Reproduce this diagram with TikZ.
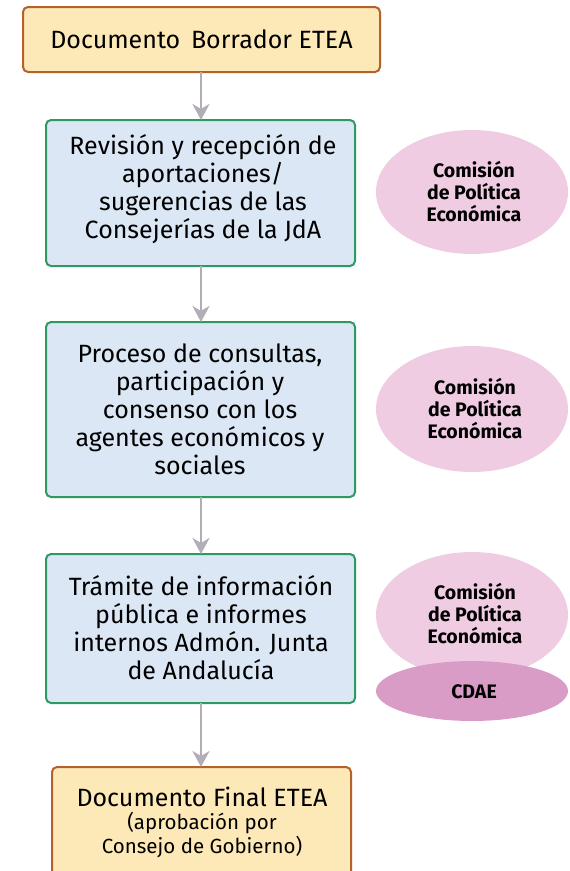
\documentclass[tikz,border=0pt]{standalone}
\usepackage{fontspec}
\setmainfont{Fira Sans}
\usetikzlibrary{arrows.meta}
\definecolor{docfill}{HTML}{FDE9B8}
\definecolor{docdraw}{HTML}{B5612A}
\definecolor{stfill}{HTML}{DCE7F5}
\definecolor{stdraw}{HTML}{2E9A62}
\definecolor{arrgray}{HTML}{B3ADB7}
\definecolor{elfill}{HTML}{F0CCE3}
\definecolor{cdfill}{HTML}{D89CC7}
\tikzset{
  docbox/.style={draw=docdraw,fill=docfill,line width=2pt,rounded corners=5pt},
  stbox/.style={draw=stdraw,fill=stfill,line width=2pt,rounded corners=5pt},
  maintext/.style={align=center,font=\fontsize{25}{28}\selectfont},
  eltext/.style={align=center,font=\fontsize{19.5}{22}\selectfont\bfseries},
  flow/.style={draw=arrgray,line width=2.8pt,-{Stealth[length=16pt,width=17pt,inset=5pt]}},
  elli/.style={fill=elfill,draw=none},
}
\begin{document}
\begin{tikzpicture}[x=1pt,y=-1pt]
\useasboundingbox (0,0) rectangle (570,871);
% boxes
\draw[docbox] (23,7) rectangle (380,72);
\node[maintext] (top) at (201.5,39.5) {Documento\, Borrador ETEA};
\draw[stbox] (46,120) rectangle (355,266);
\node[maintext] (s1) at (203,189) {Revisión y recepción de\\ aportaciones/\\ sugerencias de las\\ Consejerías de la JdA};
\draw[stbox] (46,322) rectangle (355,497);
\node[maintext] (s2) at (200,409) {Proceso de consultas,\\ participación y\\ consenso con los\\ agentes económicos y\\ sociales};
\draw[stbox] (46,554) rectangle (355,703);
\node[maintext] (s3) at (201,628) {Trámite de información\\ pública e informes\\ internos Admón. Junta\\ de Andalucía};
\draw[docbox] (52,767) rectangle (351,880);
\node[align=center,font=\fontsize{20.5}{23.5}\selectfont] (fin) at (202,822) {{\fontsize{25}{28}\selectfont Documento Final ETEA}\\ (aprobación por\\ Consejo de Gobierno)};
% coordinates for connectors
\coordinate (a0) at (201,72);
\coordinate (a1) at (201,120);
\coordinate (b0) at (201,266);
\coordinate (b1) at (201,322);
\coordinate (c0) at (201,497);
\coordinate (c1) at (201,554);
\coordinate (d0) at (201,703);
\coordinate (d1) at (201,767);
\draw[flow] (a0) -- (a1);
\draw[flow] (b0) -- (b1);
\draw[flow] (c0) -- (c1);
\draw[flow] (d0) -- (d1);
% ellipses
\fill[elli] (472,192) ellipse [x radius=96, y radius=62];
\node[eltext] (e1) at (474,192) {Comisión\\ de Política\\ Económica};
\fill[elli] (472,409) ellipse [x radius=96, y radius=63];
\node[eltext] (e2) at (475,409) {Comisión\\ de Política\\ Económica};
\fill[elli] (472,615) ellipse [x radius=96, y radius=63];
\node[eltext] (e3) at (475,614) {Comisión\\ de Política\\ Económica};
\fill[cdfill] (472,691) ellipse [x radius=96, y radius=30];
\node[eltext] (cdae) at (474,692) {CDAE};
\end{tikzpicture}
\end{document}
